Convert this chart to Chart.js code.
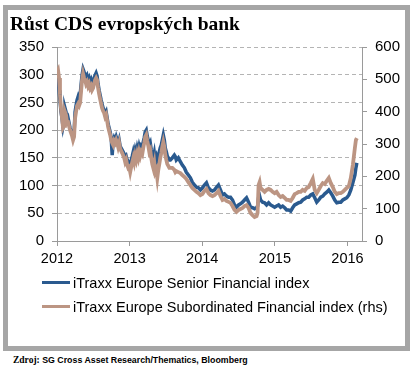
<!DOCTYPE html>
<html>
<head>
<meta charset="utf-8">
<script src="https://cdn.jsdelivr.net/npm/chart.js@4.4.1/dist/chart.umd.min.js"></script>
<style>
  body { margin: 0; background: #fff; width: 413px; height: 370px; position: relative; overflow: hidden; }
  #frame { position: absolute; left: 3px; top: 5px; width: 397px; height: 336px; border: 5px solid #a6a6a6; background: #fff; }
  #chart { position: absolute; left: 0; top: 0; }
  #title { position: absolute; left: 10px; top: 14px; font: bold 19.5px "Liberation Serif", serif; line-height: 19.5px; color: #000; white-space: nowrap; }
  #legend { position: absolute; left: 42px; top: 275px; font: 14.5px "Liberation Sans", Arial, sans-serif; color: #000; }
  #legend .row { display: flex; align-items: center; height: 15px; margin-bottom: 9px; white-space: nowrap; }
  #legend .swatch { display: inline-block; width: 28px; height: 3px; margin-right: 3px; }
  #source { position: absolute; left: 13px; top: 355px; font: bold 8.8px "Liberation Sans", Arial, sans-serif; line-height: 9px; color: #000; white-space: nowrap; }
  #source b { font: bold 9.5px "Liberation Serif", serif; }
</style>
</head>
<body>
<div id="frame"><canvas id="chart" width="397" height="336"></canvas></div>
<div id="title">Růst CDS evropských bank</div>
<div id="legend"></div>
<div id="source"><b>Zdroj:</b> SG Cross Asset Research/Thematics, Bloomberg</div>
<script>
// === data (decimal years) ===
const dates = [
  2012.000, 2012.014, 2012.028, 2012.041, 2012.055, 2012.069, 2012.083, 2012.097, 2012.110, 2012.124, 2012.138, 2012.152,
  2012.180, 2012.207, 2012.221, 2012.235, 2012.249, 2012.262, 2012.276, 2012.290, 2012.304, 2012.318, 2012.331, 2012.345,
  2012.359, 2012.373, 2012.387, 2012.400, 2012.414, 2012.428, 2012.442, 2012.456, 2012.470, 2012.483, 2012.497, 2012.511,
  2012.525, 2012.539, 2012.552, 2012.566, 2012.580, 2012.594, 2012.608, 2012.621, 2012.635, 2012.649, 2012.663, 2012.677,
  2012.691, 2012.704, 2012.718, 2012.732, 2012.746, 2012.760, 2012.773, 2012.787, 2012.801, 2012.815, 2012.829, 2012.842,
  2012.856, 2012.870, 2012.898, 2012.925, 2012.939, 2012.953, 2012.967, 2012.981, 2012.994, 2013.008, 2013.022, 2013.036,
  2013.050, 2013.063, 2013.077, 2013.091, 2013.105, 2013.119, 2013.132, 2013.146, 2013.160, 2013.174, 2013.188, 2013.201,
  2013.215, 2013.229, 2013.243, 2013.257, 2013.271, 2013.284, 2013.298, 2013.312, 2013.326, 2013.340, 2013.353, 2013.367,
  2013.381, 2013.395, 2013.409, 2013.422, 2013.436, 2013.450, 2013.464, 2013.478, 2013.491, 2013.505, 2013.519, 2013.533,
  2013.547, 2013.561, 2013.588, 2013.616, 2013.630, 2013.643, 2013.671, 2013.699, 2013.726, 2013.754, 2013.781, 2013.809,
  2013.837, 2013.864, 2013.892, 2013.920, 2013.947, 2013.975, 2014.002, 2014.030, 2014.058, 2014.085, 2014.113, 2014.141,
  2014.168, 2014.196, 2014.223, 2014.251, 2014.279, 2014.306, 2014.334, 2014.362, 2014.389, 2014.417, 2014.444, 2014.472,
  2014.500, 2014.527, 2014.555, 2014.582, 2014.610, 2014.638, 2014.665, 2014.693, 2014.721, 2014.748, 2014.762, 2014.776,
  2014.790, 2014.803, 2014.831, 2014.859, 2014.886, 2014.914, 2014.942, 2014.969, 2014.997, 2015.024, 2015.052, 2015.080,
  2015.107, 2015.135, 2015.162, 2015.190, 2015.218, 2015.245, 2015.273, 2015.301, 2015.328, 2015.356, 2015.383, 2015.411,
  2015.439, 2015.466, 2015.494, 2015.522, 2015.549, 2015.577, 2015.604, 2015.632, 2015.660, 2015.687, 2015.715, 2015.743,
  2015.770, 2015.798, 2015.825, 2015.853, 2015.881, 2015.908, 2015.936, 2015.963, 2015.991, 2016.019, 2016.046, 2016.074,
  2016.102, 2016.116, 2016.129
];

// iTraxx Europe Senior Financial (left axis, bp)
const senior = [
  287, 290, 272, 254, 233, 222, 206, 215, 240, 233, 218, 222,
  204, 193, 188, 195, 233, 244, 254, 260, 254, 262, 281, 299,
  310, 305, 301, 294, 298, 290, 294, 285, 290, 283, 287, 294,
  299, 303, 298, 283, 272, 263, 254, 247, 240, 236, 229, 233,
  222, 211, 204, 197, 186, 155, 179, 186, 182, 188, 182, 175,
  182, 171, 164, 157, 150, 153, 146, 141, 142, 137, 146, 153,
  161, 153, 164, 157, 168, 161, 171, 164, 171, 168, 179, 186,
  197, 200, 189, 182, 173, 177, 164, 155, 150, 159, 146, 152,
  143, 153, 161, 168, 173, 182, 191, 182, 168, 161, 153, 150,
  146, 146, 150, 155, 152, 146, 150, 143, 137, 132, 124, 119,
  114, 106, 101, 97, 96, 92, 96, 101, 105, 96, 92, 90,
  92, 97, 101, 92, 83, 85, 81, 79, 79, 74, 65, 61,
  65, 67, 70, 74, 78, 70, 61, 60, 58, 60, 63, 78,
  81, 74, 70, 69, 65, 69, 65, 63, 61, 63, 65, 61,
  63, 60, 56, 56, 54, 60, 65, 67, 69, 70, 74, 76,
  79, 79, 83, 85, 78, 70, 74, 79, 81, 85, 88, 92,
  87, 81, 74, 69, 70, 70, 74, 76, 78, 83, 92, 105,
  119, 132, 141
];

// iTraxx Europe Subordinated Financial (right axis, bp)
const subordinated = [
  523, 529, 504, 452, 411, 380, 350, 356, 399, 390, 368, 368,
  343, 325, 312, 322, 380, 399, 418, 424, 418, 427, 461, 498,
  517, 504, 498, 486, 492, 479, 486, 473, 479, 467, 473, 486,
  498, 504, 498, 473, 455, 439, 424, 411, 402, 396, 384, 390,
  371, 353, 340, 328, 312, 303, 297, 309, 303, 312, 303, 291,
  303, 285, 272, 257, 244, 251, 235, 226, 229, 213, 229, 244,
  257, 244, 263, 251, 269, 257, 275, 263, 275, 269, 288, 303,
  322, 328, 309, 294, 275, 281, 257, 238, 226, 241, 213, 220,
  195, 220, 238, 257, 272, 291, 306, 291, 266, 251, 238, 232,
  226, 226, 226, 220, 213, 216, 213, 210, 204, 198, 192, 182,
  173, 164, 158, 152, 148, 142, 145, 155, 161, 148, 142, 139,
  142, 148, 155, 139, 127, 130, 124, 121, 118, 108, 96, 90,
  96, 99, 102, 108, 111, 102, 87, 80, 74, 77, 87, 173,
  182, 164, 158, 152, 158, 161, 158, 152, 148, 152, 142, 136,
  139, 133, 127, 127, 124, 133, 145, 148, 152, 152, 158, 155,
  164, 167, 179, 192, 158, 148, 158, 170, 179, 176, 186, 195,
  179, 167, 152, 145, 148, 148, 152, 158, 164, 170, 195, 235,
  288, 312, 318
];

const yearTicks = [2012, 2013, 2014, 2015, 2016];
const seriesNames = [
  "iTraxx Europe Senior Financial index",
  "iTraxx Europe Subordinated Financial index (rhs)"
];
const seriesColors = ["#2a5a8f", "#bc9583"];

const tickFont = { family: "Liberation Sans", size: 15 };
const axisGray = "#9a9a9a";

const ctx = document.getElementById("chart").getContext("2d");
const chart = new Chart(ctx, {
  type: "line",
  data: {
    datasets: [
      {
        label: seriesNames[0],
        data: dates.map((d, i) => ({ x: d, y: senior[i] })),
        borderColor: seriesColors[0],
        borderWidth: 3.5,
        pointRadius: 0,
        yAxisID: "y",
        order: 2
      },
      {
        label: seriesNames[1],
        data: dates.map((d, i) => ({ x: d, y: subordinated[i] })),
        borderColor: seriesColors[1],
        borderWidth: 3.8,
        pointRadius: 0,
        yAxisID: "y1",
        order: 1  // drawn on top of the senior line
      }
    ]
  },
  options: {
    responsive: false,
    animation: false,
    layout: { padding: { top: 37, left: 0, right: 0, bottom: 79.5 } },
    scales: {
      x: {
        type: "linear",
        position: "bottom",
        min: 2012,
        max: 2016.2,
        afterBuildTicks: (scale) => { scale.ticks = yearTicks.map(v => ({ value: v })); },
        afterFit: (scale) => { scale.height = 25.5; },
        ticks: { font: { family: "Liberation Sans", size: 14.5 }, color: "#000", padding: 4, maxRotation: 0, callback: v => String(v) },
        grid: { drawOnChartArea: false, tickLength: 5, tickColor: axisGray },
        border: { color: axisGray, width: 1 }
      },
      y: {
        position: "left",
        min: 0,
        max: 350,
        afterFit: (scale) => { scale.width = 49; },
        ticks: { stepSize: 50, font: tickFont, color: "#000", padding: 8 },
        grid: { color: "#b4b4b4", tickLength: 5, tickColor: axisGray },
        border: { color: axisGray, dash: [4, 3] }
      },
      y1: {
        position: "right",
        min: 0,
        max: 600,
        afterFit: (scale) => { scale.width = 43; },
        ticks: { stepSize: 100, font: tickFont, color: "#000", padding: 8 },
        grid: { drawOnChartArea: false, tickLength: 5, tickColor: axisGray },
        border: { color: axisGray }
      }
    },
    plugins: {
      legend: { display: false },
      tooltip: { enabled: false }
    }
  }
});

// legend as plain html rows under the plot
const legendEl = document.getElementById("legend");
chart.data.datasets.forEach(ds => {
  const row = document.createElement("div");
  row.className = "row";
  const sw = document.createElement("span");
  sw.className = "swatch";
  sw.style.background = ds.borderColor;
  row.appendChild(sw);
  row.appendChild(document.createTextNode(ds.label));
  legendEl.appendChild(row);
});
</script>
</body>
</html>
